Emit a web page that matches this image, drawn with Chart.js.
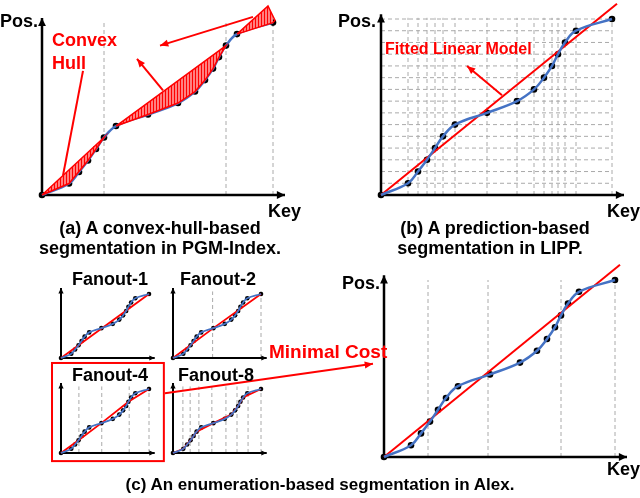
<!DOCTYPE html>
<html>
<head>
<meta charset="utf-8">
<script src="https://cdn.jsdelivr.net/npm/chart.js@4.4.0/dist/chart.umd.min.js"></script>
<style>
  body { margin: 0; background: #fff; width: 640px; height: 498px; position: relative; overflow: hidden;
         font-family: "Liberation Sans", Arial, sans-serif; font-weight: bold; }
  .box { position: absolute; }
  .t { position: absolute; white-space: nowrap; font-size: 18px; color: #000; z-index: 5; }
  .c { transform: translateX(-50%); }
  .red { color: #ff0000; }
</style>
</head>
<body>
<div class="box" id="pa"><canvas id="ca"></canvas></div>
<div class="box" id="pb"><canvas id="cb"></canvas></div>
<div class="box" id="p1"><canvas id="c1"></canvas></div>
<div class="box" id="p2"><canvas id="c2"></canvas></div>
<div class="box" id="p4"><canvas id="c4"></canvas></div>
<div class="box" id="p8"><canvas id="c8"></canvas></div>
<div class="box" id="pc"><canvas id="cc"></canvas></div>

<div class="t" style="left:0;top:11px">Pos.</div>
<div class="t" style="left:268px;top:201px">Key</div>
<div class="t c" style="left:160px;top:218px">(a) A convex-hull-based</div>
<div class="t c" style="left:160px;top:238px">segmentation in PGM-Index.</div>
<div class="t red" style="left:52px;top:30px">Convex</div>
<div class="t red" style="left:52px;top:53px">Hull</div>

<div class="t" style="left:338px;top:11px">Pos.</div>
<div class="t" style="left:607px;top:201px">Key</div>
<div class="t c" style="left:495px;top:218px">(b) A prediction-based</div>
<div class="t c" style="left:490px;top:238px">segmentation in LIPP.</div>
<div class="t red" style="left:385px;top:40px;font-size:16px">Fitted Linear Model</div>

<div class="t c" style="left:110px;top:269px">Fanout-1</div>
<div class="t c" style="left:218px;top:269px">Fanout-2</div>
<div class="t c" style="left:110px;top:365px">Fanout-4</div>
<div class="t c" style="left:216px;top:365px">Fanout-8</div>
<div class="t red" style="left:269px;top:341px;font-size:19px">Minimal Cost</div>
<div class="t" style="left:342px;top:273px">Pos.</div>
<div class="t" style="left:607px;top:459px">Key</div>
<div class="t c" style="left:320px;top:475px;font-size:17px">(c) An enumeration-based segmentation in Alex.</div>

<script>
// sorted keys and their positions (ranks)
const keys = [0, 27, 37, 46, 54, 62, 74, 106, 136, 153, 163, 171, 177, 184, 195, 231];
const ranks = [0, 1, 2, 3, 4, 5, 6, 7, 8, 9, 10, 11, 12, 13, 14, 15];

// (a) PGM convex hulls, as [key, pos] vertices
const hull1 = [[0, 0], [21, 1.7], [62, 5], [46, 3], [27, 1], [0, 0]];
const hull2 = [[74, 6], [184, 13], [177, 12], [171, 11], [163, 10], [153, 9], [136, 8], [106, 7], [74, 6]];
const hull3 = [[195, 14], [226, 16.45], [233, 15.2], [231, 15], [195, 14]];
const splitsA = [62, 184, 231];

// (b) LIPP fitted model
const fitLine = [[0, 0], [236, 16.3]];

// (c) Alex fanouts
const splitIdx1 = [0, 15];
const splitIdx2 = [0, 7, 15];
const splitIdx4 = [0, 3, 7, 12, 15];
const splitIdx8 = [0, 1, 3, 5, 7, 9, 11, 13, 15];
const splits2 = [104, 231];
const splits4 = [47, 107, 179, 231];
const splits8 = [26, 45, 68, 102, 139, 168, 197, 231];
const splitsC = [44, 104, 177, 231];

const RED = '#ff0000', BLUE = '#4472c4', GREY = '#aaaaaa';
const pts = keys.map((k, i) => ({ x: k, y: ranks[i] }));
const xy = arr => arr.map(p => ({ x: p[0], y: p[1] }));

function hatch() {
  const c = document.createElement('canvas');
  c.width = 3; c.height = 3;
  const g = c.getContext('2d');
  g.fillStyle = RED; g.fillRect(0, 0, 3, 3);
  g.fillStyle = '#fff'; g.fillRect(1.5, 0, 1, 3);
  return g.createPattern(c, 'repeat');
}

function arrowLine(g, sx, sy, x1, y1, x2, y2, head) {
  const ax = sx.getPixelForValue(x1), ay = sy.getPixelForValue(y1);
  const bx = sx.getPixelForValue(x2), by = sy.getPixelForValue(y2);
  g.beginPath(); g.moveTo(ax, ay); g.lineTo(bx, by); g.stroke();
  if (head) {
    const a = Math.atan2(by - ay, bx - ax);
    g.beginPath();
    g.moveTo(bx, by);
    g.lineTo(bx - 9 * Math.cos(a - 0.4), by - 9 * Math.sin(a - 0.4));
    g.lineTo(bx - 9 * Math.cos(a + 0.4), by - 9 * Math.sin(a + 0.4));
    g.closePath(); g.fill();
  }
}

const deco = {
  id: 'deco',
  beforeDatasetsDraw(chart, args, o) {
    const g = chart.ctx, sx = chart.scales.x, sy = chart.scales.y;
    g.save();
    g.strokeStyle = GREY; g.lineWidth = 1; g.setLineDash([4, 3]);
    (o.vlines || []).forEach(k => arrowLine(g, sx, sy, k, 0, k, o.vtop || 15.2, false));
    (o.hlines || []).forEach(r => arrowLine(g, sx, sy, 0, r, 231, r, false));
    g.setLineDash([]);
    // axes
    g.strokeStyle = '#000'; g.fillStyle = '#000'; g.lineWidth = o.axisW || 2.5;
    const h = o.head || 9;
    [[0, 0, o.xEnd, 0], [0, 0, 0, o.yEnd]].forEach(a => {
      const ax = sx.getPixelForValue(a[0]), ay = sy.getPixelForValue(a[1]);
      const bx = sx.getPixelForValue(a[2]), by = sy.getPixelForValue(a[3]);
      g.beginPath(); g.moveTo(ax, ay); g.lineTo(bx, by); g.stroke();
      const ang = Math.atan2(by - ay, bx - ax);
      g.beginPath(); g.moveTo(bx, by);
      g.lineTo(bx - h * Math.cos(ang - 0.45), by - h * Math.sin(ang - 0.45));
      g.lineTo(bx - h * Math.cos(ang + 0.45), by - h * Math.sin(ang + 0.45));
      g.closePath(); g.fill();
    });
    g.restore();
  },
  afterDatasetsDraw(chart, args, o) {
    const g = chart.ctx, sx = chart.scales.x, sy = chart.scales.y;
    g.save();
    g.strokeStyle = RED; g.fillStyle = RED; g.lineWidth = 2;
    (o.arrows || []).forEach(a => arrowLine(g, sx, sy, a[0], a[1], a[2], a[3], a[4]));
    if (o.frame) {
      const f = o.frame;
      const l = sx.getPixelForValue(f[0]), r = sx.getPixelForValue(f[1]);
      const t = sy.getPixelForValue(f[2]), b = sy.getPixelForValue(f[3]);
      g.lineWidth = 2; g.strokeRect(l, t, r - l, b - t);
    }
    g.restore();
  }
};

function makeChart(divId, canvasId, area, pad, cfg) {
  const div = document.getElementById(divId);
  div.style.left = (area.left - pad.left) + 'px';
  div.style.top = (area.top - pad.top) + 'px';
  div.style.width = (area.w + pad.left + pad.right) + 'px';
  div.style.height = (area.h + pad.top + pad.bottom) + 'px';
  const small = cfg.small;
  const datasets = [];
  (cfg.hulls || []).forEach(hh => datasets.push({
    data: xy(hh), borderColor: RED, borderWidth: 1.5, backgroundColor: hatch(),
    fill: 'shape', pointRadius: 0, tension: 0, clip: false
  }));
  datasets.push({
    data: pts, borderColor: BLUE, borderWidth: small ? 1.8 : 2.5, pointRadius: 0,
    tension: 0.4, fill: false, clip: false
  });
  (cfg.fits || []).forEach(f => datasets.push({
    data: f, borderColor: RED, borderWidth: small ? 1.8 : 2, pointRadius: 0, tension: 0, fill: false, clip: false
  }));
  datasets.push({
    data: pts, showLine: false, pointRadius: small ? 2.3 : 3.3, pointBackgroundColor: '#000',
    pointBorderColor: '#000', pointBorderWidth: 0, clip: false
  });
  return new Chart(document.getElementById(canvasId), {
    type: 'line',
    data: { datasets },
    options: {
      responsive: true, maintainAspectRatio: false, animation: false,
      layout: { padding: pad },
      plugins: { legend: { display: false }, tooltip: { enabled: false }, deco: cfg.deco },
      scales: {
        x: { type: 'linear', min: 0, max: 231, display: false },
        y: { type: 'linear', min: 0, max: cfg.yMax || 15, display: false }
      }
    },
    plugins: [deco]
  });
}

const bigPad = { left: 30, right: 30, top: 20, bottom: 20 };
// panel (a) keeps 11.73 px per rank but a taller range so the top hull is not clipped
makeChart('pa', 'ca', { left: 42, top: 0, w: 231, h: 195 }, { left: 30, right: 30, top: 0, bottom: 20 }, {
  hulls: [hull1, hull2, hull3], yMax: 16.62,
  deco: {
    vlines: splitsA, xEnd: 243, yEnd: 15.4,
    arrows: [[41, 10.8, 21, 1.7, false], [121, 9.1, 95, 11.85, true], [211, 15.5, 118, 13.0, true]]
  }
});

makeChart('pb', 'cb', { left: 381, top: 19, w: 231, h: 176 }, bigPad, {
  fits: [xy(fitLine)],
  deco: {
    vlines: keys.slice(1), hlines: ranks.slice(1), vtop: 15.1, xEnd: 243, yEnd: 15.4,
    arrows: [[121, 8.5, 86, 11.0, true]]
  }
});

function segFit(idx) { return idx.map(i => ({ x: keys[i], y: ranks[i] })); }
const smallPad = { left: 30, right: 30, top: 30, bottom: 30 };
const smallDeco = (v, extra) => Object.assign({ vlines: v, vtop: 15.6, xEnd: 246, yEnd: 16.4, axisW: 2, head: 6 }, extra || {});
makeChart('p1', 'c1', { left: 61, top: 294, w: 88, h: 64 }, smallPad, { small: true, fits: [segFit(splitIdx1)], deco: smallDeco([]) });
makeChart('p2', 'c2', { left: 173, top: 294, w: 88, h: 64 }, smallPad, { small: true, fits: [segFit(splitIdx2)], deco: smallDeco(splits2) });
makeChart('p4', 'c4', { left: 61, top: 389, w: 88, h: 64 }, smallPad, {
  small: true, fits: [segFit(splitIdx4)], deco: smallDeco(splits4, { frame: [-23.6, 270, 21.1, -1.9] })
});
makeChart('p8', 'c8', { left: 173, top: 389, w: 88, h: 64 }, smallPad, { small: true, fits: [segFit(splitIdx8)], deco: smallDeco(splits8) });

makeChart('pc', 'cc', { left: 384, top: 280, w: 231, h: 177 }, { left: 234, right: 25, top: 20, bottom: 41 }, {
  fits: [xy(fitLine)],
  deco: {
    vlines: splitsC, vtop: 15.0, xEnd: 243, yEnd: 15.4,
    arrows: [[-219, 5.4, -11, 7.9, true]]
  }
});
</script>
</body>
</html>
